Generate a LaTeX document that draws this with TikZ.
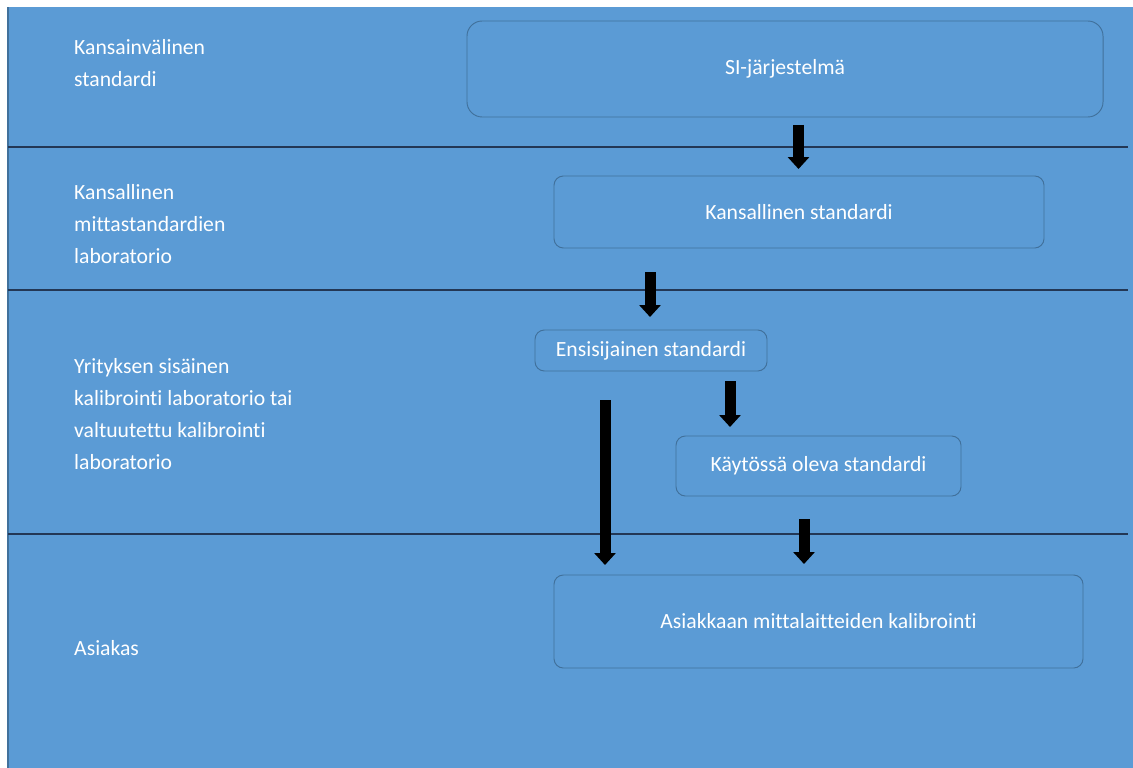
\documentclass[tikz,border=0pt]{standalone}
\usepackage{fontspec}
\setmainfont[Ligatures=NoCommon]{Carlito}
\usetikzlibrary{arrows.meta}
\definecolor{Sky}{RGB}{91,155,213}
\definecolor{SkyEdge}{RGB}{65,113,156}
\definecolor{Rule}{RGB}{35,55,85}

\tikzset{
  stdbox/.style={draw=SkyEdge, line width=0.8pt, rounded corners=8pt, inner sep=0pt,
    font=\fontsize{18.5}{27.3}\selectfont, text=white},
  lvl/.style={anchor=west, align=left, inner sep=0pt, text=white,
    font=\fontsize{18.5}{27.3}\selectfont},
  flow/.style={line width=9.4pt, -{Triangle[width=17.9pt, length=10.2pt]}}
}

\begin{document}
\begin{tikzpicture}[x=0.03cm,y=-0.03cm]
  \useasboundingbox (0,0) rectangle (1133,768);
  \fill[white] (0,0) rectangle (1133,768);
  \fill[Sky] (8,7) rectangle (1133,768);
  \draw[SkyEdge, line width=1pt] (8,768) -- (8,7);

  % level lines
  \foreach \y in {147,290,534}
    \draw[Rule, line width=1.6pt] (8,\y) -- (1128,\y);

  % level names
  \node (intl) [lvl] at (74,63) {Kansainvälinen\\standardi};
  \node (natl) [lvl] at (74,224) {Kansallinen\\mittastandardien\\laboratorio};
  \node (comp) [lvl] at (74,414) {Yrityksen sisäinen\\kalibrointi laboratorio tai\\valtuutettu kalibrointi\\laboratorio};
  \node (cust) [lvl] at (74,648) {Asiakas};

  % standards
  \node (si) [stdbox, rounded corners=13pt, minimum width=19.08cm, minimum height=2.88cm] at (785,69) {SI-järjestelmä};
  \node (nat) [stdbox, minimum width=14.7cm, minimum height=2.16cm] at (799,212) {Kansallinen standardi};
  \node (prim) [stdbox, minimum width=6.96cm, minimum height=1.23cm] at (651,350.5) {Ensisijainen standardi};
  \node (work) [stdbox, minimum width=8.55cm, minimum height=1.8cm] at (818.5,466) {Käytössä oleva standardi};
  \node (cal) [stdbox, minimum width=15.87cm, minimum height=2.79cm] at (818.5,621.5) {Asiakkaan mittalaitteiden kalibrointi};

  % arrows
  \coordinate (a1) at (798.5,125);  \coordinate (b1) at (798.5,169);
  \coordinate (a2) at (650,272);    \coordinate (b2) at (650,317);
  \coordinate (a3) at (730,381);    \coordinate (b3) at (730,427);
  \coordinate (a4) at (605,400);    \coordinate (b4) at (605,565);
  \coordinate (a5) at (804,519);    \coordinate (b5) at (804,564);
  \foreach \i in {1,...,5}
    \draw[flow] (a\i) -- (b\i);
\end{tikzpicture}
\end{document}
